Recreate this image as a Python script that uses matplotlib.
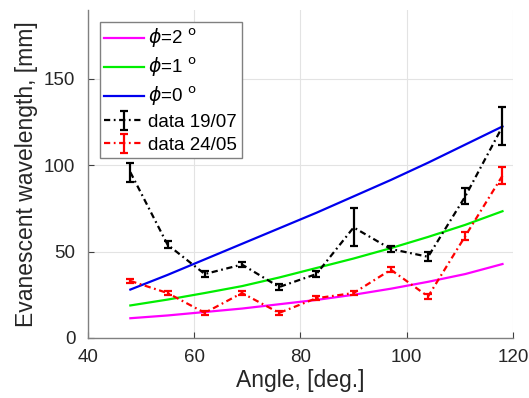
import matplotlib.pyplot as plt

plt.rcParams['font.family'] = ['Liberation Sans', 'DejaVu Sans']
plt.rcParams['mathtext.fontset'] = 'dejavusans'

# Angles of the measurements / model curves
angle = [48, 55, 62, 69, 76, 83, 90, 97, 104, 111, 118]

# Model curves
phi2 = [11.4, 13.0, 15.0, 17.0, 19.5, 22.0, 25.0, 28.5, 32.5, 37.0, 42.8]
phi1 = [18.8, 22.2, 26.0, 30.0, 35.0, 40.5, 46.0, 52.0, 58.5, 65.5, 73.4]
phi0 = [28.0, 36.5, 45.5, 54.5, 63.5, 72.5, 82.0, 91.5, 101.5, 112.0, 122.5]

# Measurements
data_1907 = [96, 54, 37, 42.5, 29.5, 37, 64, 51.5, 47, 82, 122.5]
err_1907 = [5.5, 2, 2, 1.5, 2, 2, 11, 2, 2.5, 4.7, 11]
data_2405 = [33, 26, 14.5, 26, 14.5, 23, 26, 39.5, 24, 59, 94]
err_2405 = [1.2, 1.2, 1.2, 1.2, 1.2, 1.2, 1.2, 1.5, 1.5, 2.5, 5]

dashdot = (0, (2.8, 1.6, 0.8, 1.6))

fig = plt.figure(figsize=(5.29, 3.98), dpi=100, facecolor='white')
ax = fig.add_axes([0.166, 0.151, 0.804, 0.824])

ax.plot(angle, phi2, color='#ff00ff', lw=1.6, label=r'$\phi$=2 $^{\mathrm{o}}$')
ax.plot(angle, phi1, color='#00ee00', lw=1.6, label=r'$\phi$=1 $^{\mathrm{o}}$')
ax.plot(angle, phi0, color='#0000ee', lw=1.6, label=r'$\phi$=0 $^{\mathrm{o}}$')
ax.errorbar(angle, data_1907, yerr=err_1907, color='black', ls=dashdot, lw=1.6,
            capsize=2.8, capthick=1.6, elinewidth=1.6, label='data 19/07')
ax.errorbar(angle, data_2405, yerr=err_2405, color='red', ls=dashdot, lw=1.6,
            capsize=2.8, capthick=1.6, elinewidth=1.6, label='data 24/05')

ax.set_xlim(40, 120)
ax.set_ylim(0, 190)
ax.set_xticks([40, 60, 80, 100, 120])
ax.set_yticks([0, 50, 100, 150])
ax.grid(True, color='#e3e3e3', lw=0.8)
ax.set_axisbelow(True)
for s in ['top', 'right']:
    ax.spines[s].set_visible(False)
for s in ['left', 'bottom']:
    ax.spines[s].set_color('#808080')
    ax.spines[s].set_linewidth(1.0)
ax.tick_params(direction='in', length=4, color='#404040', labelsize=13.5,
               labelcolor='#262626')
ax.tick_params(axis='x', pad=8)
ax.tick_params(axis='y', pad=9)
ax.set_xlabel('Angle, [deg.]', fontsize=16.5, color='#262626', labelpad=2)
ax.set_ylabel('Evanescent wavelength, [mm]', fontsize=16.5, color='#262626', labelpad=4)

leg = ax.legend(loc='upper left', bbox_to_anchor=(0.028, 0.963), fontsize=13.5,
                frameon=True, fancybox=False, edgecolor='#808080', framealpha=1,
                handlelength=2.1, handletextpad=0.25, borderpad=0.25,
                labelspacing=0.3, borderaxespad=0)
leg.get_frame().set_linewidth(1.0)

fig.savefig('out.png', dpi=100)
